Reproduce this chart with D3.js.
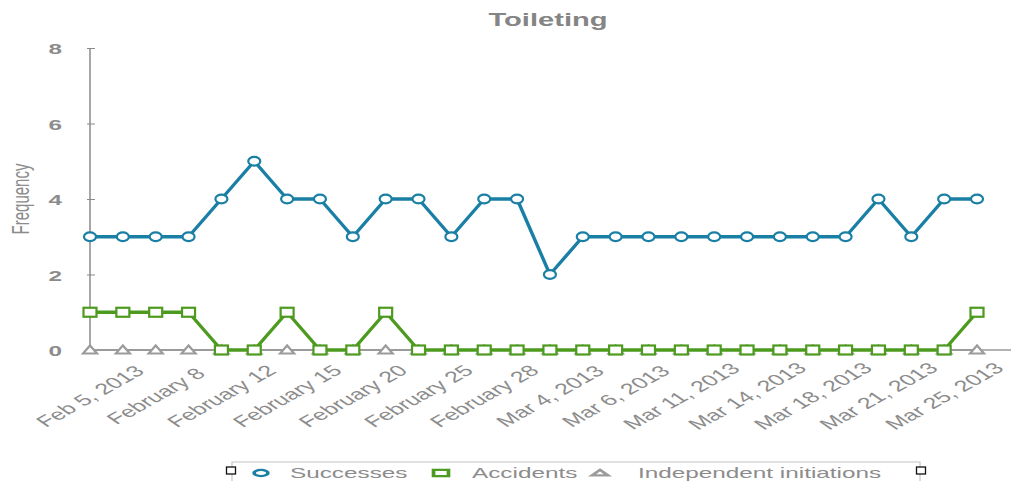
<!DOCTYPE html>
<html>
<head>
<meta charset="utf-8">
<script src="https://cdn.jsdelivr.net/npm/d3@7"></script>
<style>
  body { margin: 0; background: #fff; }
  text { font-family: "Liberation Sans", Arial, sans-serif; fill: #8c8c8c; }
</style>
</head>
<body>
<script>
// data
const dates = [
  "Feb 5", "Feb 6", "Feb 8", "Feb 11", "Feb 12", "Feb 13", "Feb 15", "Feb 19",
  "Feb 20", "Feb 22", "Feb 25", "Feb 26", "Feb 28", "Mar 1", "Mar 4", "Mar 5",
  "Mar 6", "Mar 7", "Mar 11", "Mar 12", "Mar 14", "Mar 15", "Mar 18", "Mar 19",
  "Mar 21", "Mar 22", "Mar 25", "Mar 26"
];
const tickLabels = [
  "Feb 5, 2013", "February 8", "February 12", "February 15", "February 20",
  "February 25", "February 28", "Mar 4, 2013", "Mar 6, 2013", "Mar 11, 2013",
  "Mar 14, 2013", "Mar 18, 2013", "Mar 21, 2013", "Mar 25, 2013"
];
const successes = [3, 3, 3, 3, 4, 5, 4, 4, 3, 4, 4, 3, 4, 4, 2, 3, 3, 3, 3, 3, 3, 3, 3, 3, 4, 3, 4, 4];
const accidents = [1, 1, 1, 1, 0, 0, 1, 0, 0, 1, 0, 0, 0, 0, 0, 0, 0, 0, 0, 0, 0, 0, 0, 0, 0, 0, 0, 1];
const initiations = [0, 0, 0, 0, 0, 0, 0, 0, 0, 0, 0, 0, 0, 0, 0, 0, 0, 0, 0, 0, 0, 0, 0, 0, 0, 0, 0, 0];
const yTicks = [0, 2, 4, 6, 8];

const w = 1011;
const h = 481;
const sx = 1.62; // the picture is stretched sideways, glyphs and marks too

const svg = d3.select("body").append("svg").attr("width", w).attr("height", h);

const xScale = d3.scalePoint().domain(dates).range([90, 977]);
const yScale = d3.scaleLinear().domain([0, 8]).range([350, 48]);

/* Title */
svg.append("text")
  .attr("transform", `translate(548, 26) scale(${sx}, 1)`)
  .attr("text-anchor", "middle")
  .attr("font-size", 18)
  .attr("font-weight", "bold")
  .attr("fill", "#858585")
  .style("fill", "#858585")
  .text("Toileting");

/* Y axis */
const yAxis = svg.append("g")
  .attr("transform", "translate(90, 0)")
  .call(d3.axisLeft(yScale).tickValues(yTicks).tickFormat(d3.format("d")).tickSize(4));
yAxis.select(".domain").attr("stroke", "#8a8a8a").attr("stroke-width", 1.5).attr("d", "M0,48V350");
yAxis.selectAll(".tick line").attr("stroke", "#8a8a8a").attr("x1", -3).attr("x2", 5);
yAxis.selectAll(".tick text")
  .attr("x", null)
  .attr("dy", null)
  .attr("transform", `translate(-28, 5.5) scale(${sx}, 1)`)
  .attr("text-anchor", "end")
  .attr("font-size", 15)
  .attr("font-weight", "bold")
  .attr("font-family", null);

svg.append("text")
  .attr("transform", `translate(29, 199) scale(${sx}, 1) rotate(-90)`)
  .attr("text-anchor", "middle")
  .attr("font-size", 15)
  .text("Frequency");

/* X axis */
const xAxis = svg.append("g")
  .attr("transform", "translate(0, 350)")
  .call(d3.axisBottom(xScale).tickSize(-4).tickFormat(""));
xAxis.select(".domain").attr("stroke", "#9a9a9a").attr("stroke-width", 1.5).attr("d", "M90,0H1011");
xAxis.selectAll(".tick line").attr("stroke", "#9a9a9a");

svg.append("g")
  .selectAll("text")
  .data(tickLabels)
  .enter()
  .append("text")
  .attr("transform", (d, i) => `translate(${xScale(dates[i * 2])}, 396) scale(${sx}, 1) rotate(-42)`)
  .attr("text-anchor", "middle")
  .attr("dy", "0.35em")
  .attr("font-size", 15.5)
  .text((d) => d);

/* Series */
const markers = {
  circle: (g) => g.append("ellipse").attr("rx", 6).attr("ry", 4.3),
  square: (g) => g.append("rect").attr("x", -6.5).attr("y", -4.5).attr("width", 13).attr("height", 9),
  triangle: (g) => g.append("path").attr("d", "M-7,3.5L0,-4.5L7,3.5Z"),
};

const series = [
  { name: "Independent initiations", values: initiations, color: "#9b9b9b", width: 2, marker: "triangle" },
  { name: "Accidents", values: accidents, color: "#4c9a1e", width: 3.4, marker: "square" },
  { name: "Successes", values: successes, color: "#1a7fa5", width: 3.4, marker: "circle" },
];

const line = d3.line()
  .x((d, i) => xScale(dates[i]))
  .y((d) => yScale(d));

series.forEach((s) => {
  svg.append("path")
    .datum(s.values)
    .attr("fill", "none")
    .attr("stroke", s.color)
    .attr("stroke-width", s.width)
    .attr("stroke-linejoin", "round")
    .attr("d", line);

  svg.append("g")
    .selectAll("g")
    .data(s.values)
    .enter()
    .append("g")
    .attr("transform", (d, i) => `translate(${xScale(dates[i])}, ${yScale(d)})`)
    .each(function () {
      markers[s.marker](d3.select(this))
        .attr("fill", "#fff")
        .attr("stroke", s.color)
        .attr("stroke-width", 2.2);
    });
});

/* Legend */
const legend = svg.append("g");
legend.append("path")
  .attr("d", "M232,481V462H920V481")
  .attr("fill", "none")
  .attr("stroke", "#c4c4c4")
  .attr("stroke-width", 1.2);

[231, 921].forEach((x) => {
  legend.append("rect")
    .attr("x", x - 4.5).attr("y", 467).attr("width", 9).attr("height", 7)
    .attr("fill", "#fff").attr("stroke", "#111").attr("stroke-width", 1.3);
});

const legendItems = [
  { s: series[2], mx: 261, tx: 290 },
  { s: series[1], mx: 441, tx: 472 },
  { s: series[0], mx: 600, tx: 638 },
];

legendItems.forEach((it) => {
  const m = legend.append("g").attr("transform", `translate(${it.mx}, 473) scale(1.15, 0.7)`);
  markers[it.s.marker](m)
    .attr("fill", "#fff")
    .attr("stroke", it.s.color)
    .attr("stroke-width", 3.2);
  legend.append("text")
    .attr("transform", `translate(${it.tx}, 478) scale(${sx}, 1)`)
    .attr("font-size", 15)
    .text(it.s.name);
});
</script>
</body>
</html>
